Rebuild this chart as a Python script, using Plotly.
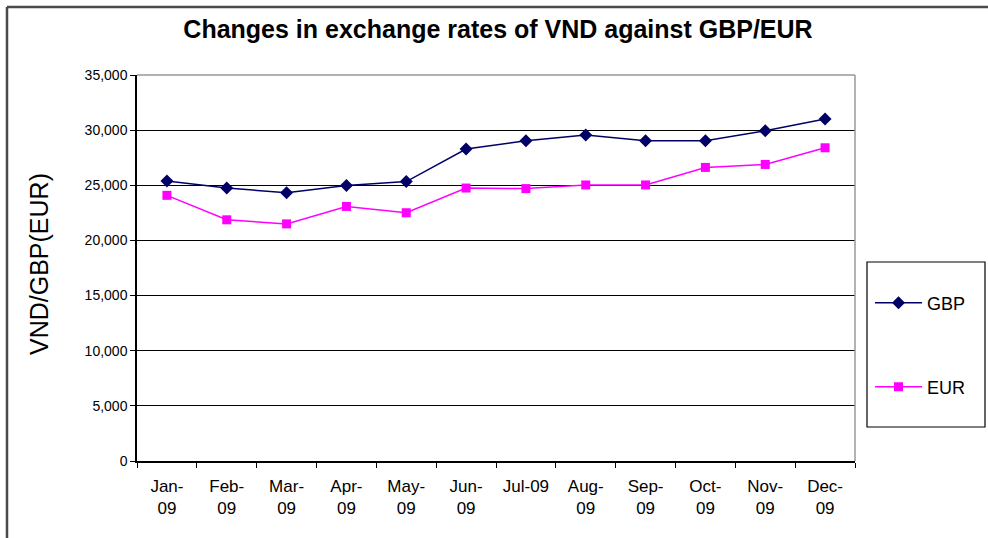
"""
Exchange rate chart: VND against GBP / EUR over 2009
"""

import plotly.graph_objects as go

months = ["Jan-<br>09", "Feb-<br>09", "Mar-<br>09", "Apr-<br>09", "May-<br>09", "Jun-<br>09",
          "Jul-09", "Aug-<br>09", "Sep-<br>09", "Oct-<br>09", "Nov-<br>09", "Dec-<br>09"]
gbp = [25390, 24750, 24330, 24970, 25340, 28290, 29040, 29560, 29040, 29040, 29950, 31020]
eur = [24090, 21870, 21500, 23080, 22510, 24750, 24700, 25030, 25030, 26620, 26890, 28400]
y_ticks = [0, 5000, 10000, 15000, 20000, 25000, 30000, 35000]

FONT = "Liberation Sans, Arial, sans-serif"

# plot area in pixels: x 137..855, y 75..461
L, R, T, B = 137, 855, 75, 461
W, H = 988, 538


def px_x(x):
    return (x - L) / (R - L)


def px_y(y):
    return (B - y) / (B - T)


def paper_line(fig, x0, y0, x1, y1, color, width):
    fig.add_shape(type="line", xref="paper", yref="paper",
                  x0=px_x(x0), x1=px_x(x1), y0=px_y(y0), y1=px_y(y1),
                  line=dict(color=color, width=width))


def create_rate_chart() -> go.Figure:
    fig = go.Figure()
    fig.add_trace(go.Scatter(
        x=months, y=gbp, name="GBP", mode="lines+markers",
        line=dict(color="#000066", width=1.5),
        marker=dict(symbol="diamond", size=10, color="#000066"),
        legend="legend",
    ))
    fig.add_trace(go.Scatter(
        x=months, y=eur, name="EUR", mode="lines+markers",
        line=dict(color="#ff00ff", width=1.5),
        marker=dict(symbol="square", size=9, color="#ff00ff"),
        legend="legend2",
    ))

    legend_style = dict(
        x=px_x(870), xanchor="left", yanchor="middle",
        bgcolor="rgba(0,0,0,0)", borderwidth=0,
        font=dict(family=FONT, size=18, color="black"),
        itemwidth=47,
    )

    fig.update_layout(
        width=W, height=H,
        paper_bgcolor="white", plot_bgcolor="white",
        margin=dict(l=L, r=W - R, t=T, b=H - B, pad=0),
        title=dict(text="<b>Changes in exchange rates of VND against GBP/EUR</b>",
                   x=498 / W, xanchor="center", y=1 - 29 / H, yanchor="middle",
                   font=dict(family=FONT, size=25, color="black")),
        legend=dict(y=px_y(303), **legend_style),
        legend2=dict(y=px_y(387), **legend_style),
        showlegend=True,
    )

    fig.update_xaxes(
        type="category", range=[-0.5, len(months) - 0.5],
        tickson="boundaries", ticks="outside", ticklen=5,
        tickcolor="black", showline=True, linecolor="black", linewidth=1.5,
        showgrid=False, ticklabelstandoff=9,
        tickfont=dict(family=FONT, size=17, color="black"),
    )
    fig.update_yaxes(
        range=[0, 35000], tickvals=y_ticks, tickformat=",d",
        ticks="outside", ticklen=5, tickcolor="black",
        showline=True, linecolor="black", linewidth=1.5,
        showgrid=True, gridcolor="black", gridwidth=1.3, zeroline=False,
        tickfont=dict(family=FONT, size=14, color="black"),
    )

    # y-axis title placed by hand
    fig.add_annotation(text="VND/GBP(EUR)", textangle=-90, showarrow=False,
                       xref="paper", yref="paper", x=px_x(39), y=px_y(264),
                       xanchor="center", yanchor="middle",
                       font=dict(family=FONT, size=25, color="black"))

    # gray plot-area edge on top and right
    paper_line(fig, L, T, R, T, "#999999", 1.5)
    paper_line(fig, R, T, R, B, "#999999", 1.5)
    # legend box
    fig.add_shape(type="rect", xref="paper", yref="paper",
                  x0=px_x(867), x1=px_x(985), y0=px_y(427), y1=px_y(262),
                  line=dict(color="black", width=1.2))
    # outer chart border (top and left edges are what shows in the window)
    paper_line(fig, 7, 7, 988, 7, "#4a4a4a", 2.5)
    paper_line(fig, 7, 7, 7, 538, "#4a4a4a", 2.5)
    return fig


fig = create_rate_chart()
# drop the default page margin so the figure sits at the window origin
fig.write_html("out.html", config={"displayModeBar": False},
               post_script="document.body.style.margin='0';")
